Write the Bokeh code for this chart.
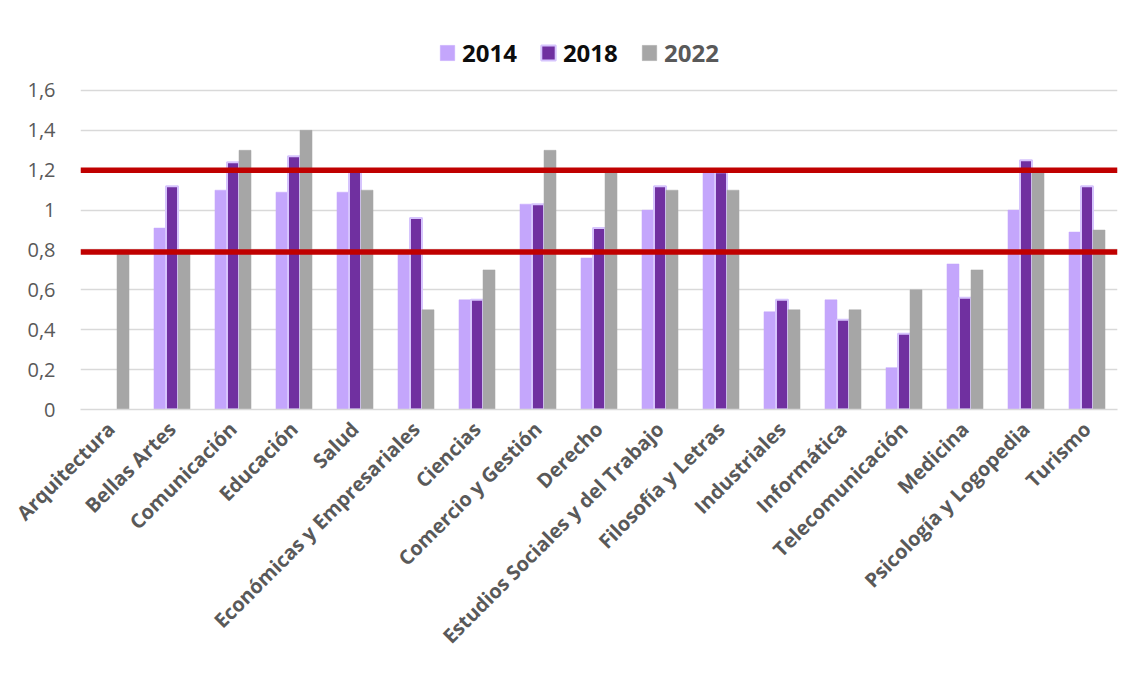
import numpy as np
from bokeh.plotting import figure
from bokeh.models import (ColumnDataSource, FactorRange, Range1d, Span, Legend, LegendItem,
                          FixedTicker)
from bokeh.transform import dodge
from bokeh.embed import file_html
from bokeh.resources import INLINE

categories = ["Arquitectura", "Bellas Artes", "Comunicación", "Educación", "Salud",
              "Económicas y Empresariales", "Ciencias", "Comercio y Gestión", "Derecho",
              "Estudios Sociales y del Trabajo", "Filosofía y Letras", "Industriales",
              "Informática", "Telecomunicación", "Medicina", "Psicología y Logopedia", "Turismo"]
v2014 = [None, 0.91, 1.10, 1.09, 1.09, 0.79, 0.55, 1.03, 0.76, 1.00, 1.19, 0.49, 0.55, 0.21, 0.73, 1.00, 0.89]
v2018 = [None, 1.12, 1.24, 1.27, 1.20, 0.96, 0.55, 1.03, 0.91, 1.12, 1.19, 0.55, 0.45, 0.38, 0.56, 1.25, 1.12]
v2022 = [0.80, 0.80, 1.30, 1.40, 1.10, 0.50, 0.70, 1.30, 1.20, 1.10, 1.10, 0.50, 0.50, 0.60, 0.70, 1.20, 0.90]
reference_lines = [1.2, 0.79]
y_ticks = [0, 0.2, 0.4, 0.6, 0.8, 1.0, 1.2, 1.4, 1.6]
y_tick_labels = ["0", "0,2", "0,4", "0,6", "0,8", "1", "1,2", "1,4", "1,6"]
series_names = ["2014", "2018", "2022"]

src = ColumnDataSource(dict(
    cat=categories,
    y14=np.array(v2014, dtype=float),
    y18=np.array(v2018, dtype=float),
    y22=np.array(v2022, dtype=float),
))

FONT = "Open Sans"
p = figure(x_range=FactorRange(factors=categories, range_padding=0),
           y_range=Range1d(0, 1.921),
           width=1123, height=663, output_backend="svg", toolbar_location=None,
           min_border_left=80, min_border_right=6, min_border_top=26, min_border_bottom=254)
p.outline_line_color = None
p.background_fill_color = "white"
p.border_fill_color = "white"

bw = 0.197
r14 = p.vbar(x=dodge("cat", -bw, range=p.x_range), top="y14", width=bw, source=src,
             fill_color="#C4A6FC", line_color="#C4A6FC", line_width=0.5)
r18 = p.vbar(x=dodge("cat", 0, range=p.x_range), top="y18", width=bw, source=src,
             fill_color="#7030A0", line_color="#D6C4FD", line_width=2)
r22 = p.vbar(x=dodge("cat", bw, range=p.x_range), top="y22", width=bw, source=src,
             fill_color="#A6A6A6", line_color="#A6A6A6", line_width=0.5)

for loc in reference_lines:
    p.add_layout(Span(location=loc, dimension="width", line_color="#C00000", line_width=5.5))

# axes
p.yaxis.ticker = FixedTicker(ticks=y_ticks)
p.yaxis.major_label_overrides = {t: l for t, l in zip(y_ticks, y_tick_labels)}
p.yaxis.axis_line_color = None
p.yaxis.major_tick_line_color = None
p.yaxis.minor_tick_line_color = None
p.yaxis.major_label_text_font = FONT
p.yaxis.major_label_text_font_size = "20px"
p.yaxis.major_label_text_color = "#595959"
p.yaxis.major_label_standoff = 19

p.xaxis.axis_line_color = "#D9D9D9"
p.xaxis.axis_line_width = 1.5
p.xaxis.major_tick_line_color = None
p.xaxis.minor_tick_line_color = None
p.xaxis.major_label_orientation = np.pi / 4
p.xaxis.major_label_text_font = FONT
p.xaxis.major_label_text_font_style = "bold"
p.xaxis.major_label_text_font_size = "20px"
p.xaxis.major_label_text_color = "#595959"
p.xaxis.major_label_standoff = 10

p.xgrid.grid_line_color = None
p.ygrid.ticker = FixedTicker(ticks=y_ticks)
p.ygrid.grid_line_color = "#D9D9D9"
p.ygrid.grid_line_width = 1.5

common = dict(orientation="horizontal", padding=0, margin=0, spacing=22,
              border_line_color=None, background_fill_alpha=0,
              glyph_width=18, glyph_height=19, label_standoff=6, label_height=18,
              label_text_font=FONT, label_text_font_style="bold", label_text_font_size="24px")
leg1 = Legend(items=[LegendItem(label=series_names[0], renderers=[r14]),
                     LegendItem(label=series_names[1], renderers=[r18])],
              location=(358, 340), label_text_color="#0D0D0D", **common)
leg2 = Legend(items=[LegendItem(label=series_names[2], renderers=[r22])],
              location=(560, 340), label_text_color="#595959", **common)
p.add_layout(leg1, "center")
p.add_layout(leg2, "center")

open("out.html", "w").write(file_html(p, INLINE))
